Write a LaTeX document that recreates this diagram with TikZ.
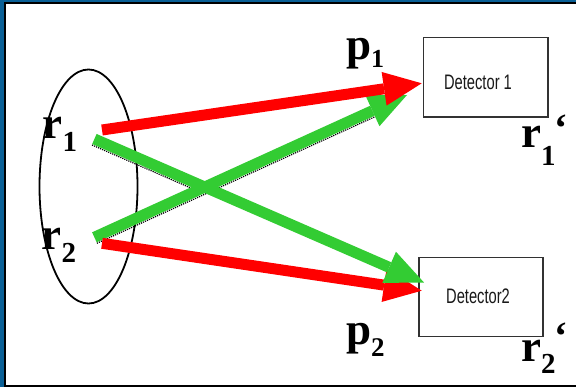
\documentclass[tikz,border=0pt]{standalone}
\usepackage{fontspec}
\setmainfont{Liberation Serif}
\newfontfamily\detfont{Liberation Sans}
\usetikzlibrary{arrows.meta,calc,shapes.geometric}
\definecolor{frameblue}{RGB}{10,96,150}
\definecolor{arrred}{RGB}{255,0,0}
\definecolor{arrgreen}{RGB}{51,204,51}
\definecolor{boxgray}{RGB}{50,50,50}
\newcommand\lowsub[3]{\raisebox{-#1}{\fontsize{#2}{#2}\selectfont #3}}
\begin{document}
\begin{tikzpicture}[x=1pt,y=-1pt,
  bigarrow/.style={line width=11pt, line cap=butt,
    -{Triangle[length=38pt,width=34pt,line width=0pt]}},
  redarrow/.style={bigarrow, draw=arrred, fill=arrred},
  greenarrow/.style={bigarrow, draw=arrgreen, fill=arrgreen},
  shadowline/.style={black, line width=1.2pt, densely dotted},
  detbox/.style={draw=boxgray, line width=1.5pt, fill=white, inner sep=0pt},
  dettext/.style={inner sep=0pt, font=\detfont\fontsize{21}{21}\selectfont, text=black!90},
  lbl/.style={inner sep=0pt, anchor=base west, font=\fontsize{45}{45}\selectfont\bfseries},
  primemark/.style={inner sep=0pt, anchor=base west, font=\fontsize{40}{40}\selectfont\bfseries}
]
\useasboundingbox (0,0) rectangle (576,387);
% frame
\fill[white] (0,0) rectangle (576,387);
\fill[frameblue] (0,0) rectangle (4,387);
\fill[frameblue] (0,0) rectangle (576,2);
\fill[black] (4,2) rectangle (6,387);
\fill[black] (4,2) rectangle (576,4);
\fill[black] (4,385) rectangle (576,387);

% source ellipse
\node[draw=black, line width=1.8pt, ellipse, inner sep=0pt,
  minimum width=98pt, minimum height=234pt] (src) at (88.5,186.5) {};

% detectors
\node[detbox, minimum width=124.5pt, minimum height=79.5pt] (det1) at (485.75,77.25) {};
\node[dettext] (det1t) at (478,82.5) {\scalebox{0.7}[1]{Detector 1}};
\node[detbox, minimum width=124pt, minimum height=79pt] (det2) at (481,297) {};
\node[dettext] (det2t) at (478,296.5) {\scalebox{0.7}[1]{Detector2}};

% arrow end points
\coordinate (r1s) at (102,130);
\coordinate (r2s) at (102,243.3);
\coordinate (g1s) at (94.4,139);
\coordinate (g2s) at (94.4,237.3);
\coordinate (r1e) at (421.7,83.3);
\coordinate (r2e) at (421.7,290.7);
\coordinate (g1e) at (424,282.5);
\coordinate (g2e) at (407,95);

% dotted shadows of the green beams
\coordinate (sh1a) at ($(g1s)+(-2.4,6)$);
\coordinate (sh1b) at ($(g1s)!0.33!(g1e)+(-2.4,6)$);
\coordinate (sh2a) at ($(g2s)+(2.5,6)$);
\coordinate (sh2b) at ($(g2s)!0.92!(g2e)+(2.5,6)$);
\draw[shadowline] (sh1a) -- (sh1b);
\draw[shadowline] (sh2a) -- (sh2b);

% beams
\draw[greenarrow] (g2s) -- (g2e);
\draw[redarrow] (r1s) -- (r1e);
\draw[redarrow] (r2s) -- (r2e);
\draw[greenarrow] (g1s) -- (g1e);

% labels
\node[lbl] (lr1) at (42.5,139) {r\lowsub{13pt}{29}{1}};
\node[lbl] (lr2) at (41.5,250) {r\lowsub{13pt}{29}{2}};
\node[lbl] (lp1) at (346,60) {p\lowsub{8pt}{26}{1}};
\node[lbl] (lp2) at (346,345) {p\lowsub{12pt}{27}{2}};
\node[lbl] (lr1p) at (521,148) {r\lowsub{18pt}{29}{1}};
\node[primemark] (pr1) at (554,142) {‘};
\node[lbl] (lr2p) at (521,361.5) {r\lowsub{12pt}{29}{2}};
\node[primemark] (pr2) at (554,350) {‘};
\end{tikzpicture}
\end{document}
